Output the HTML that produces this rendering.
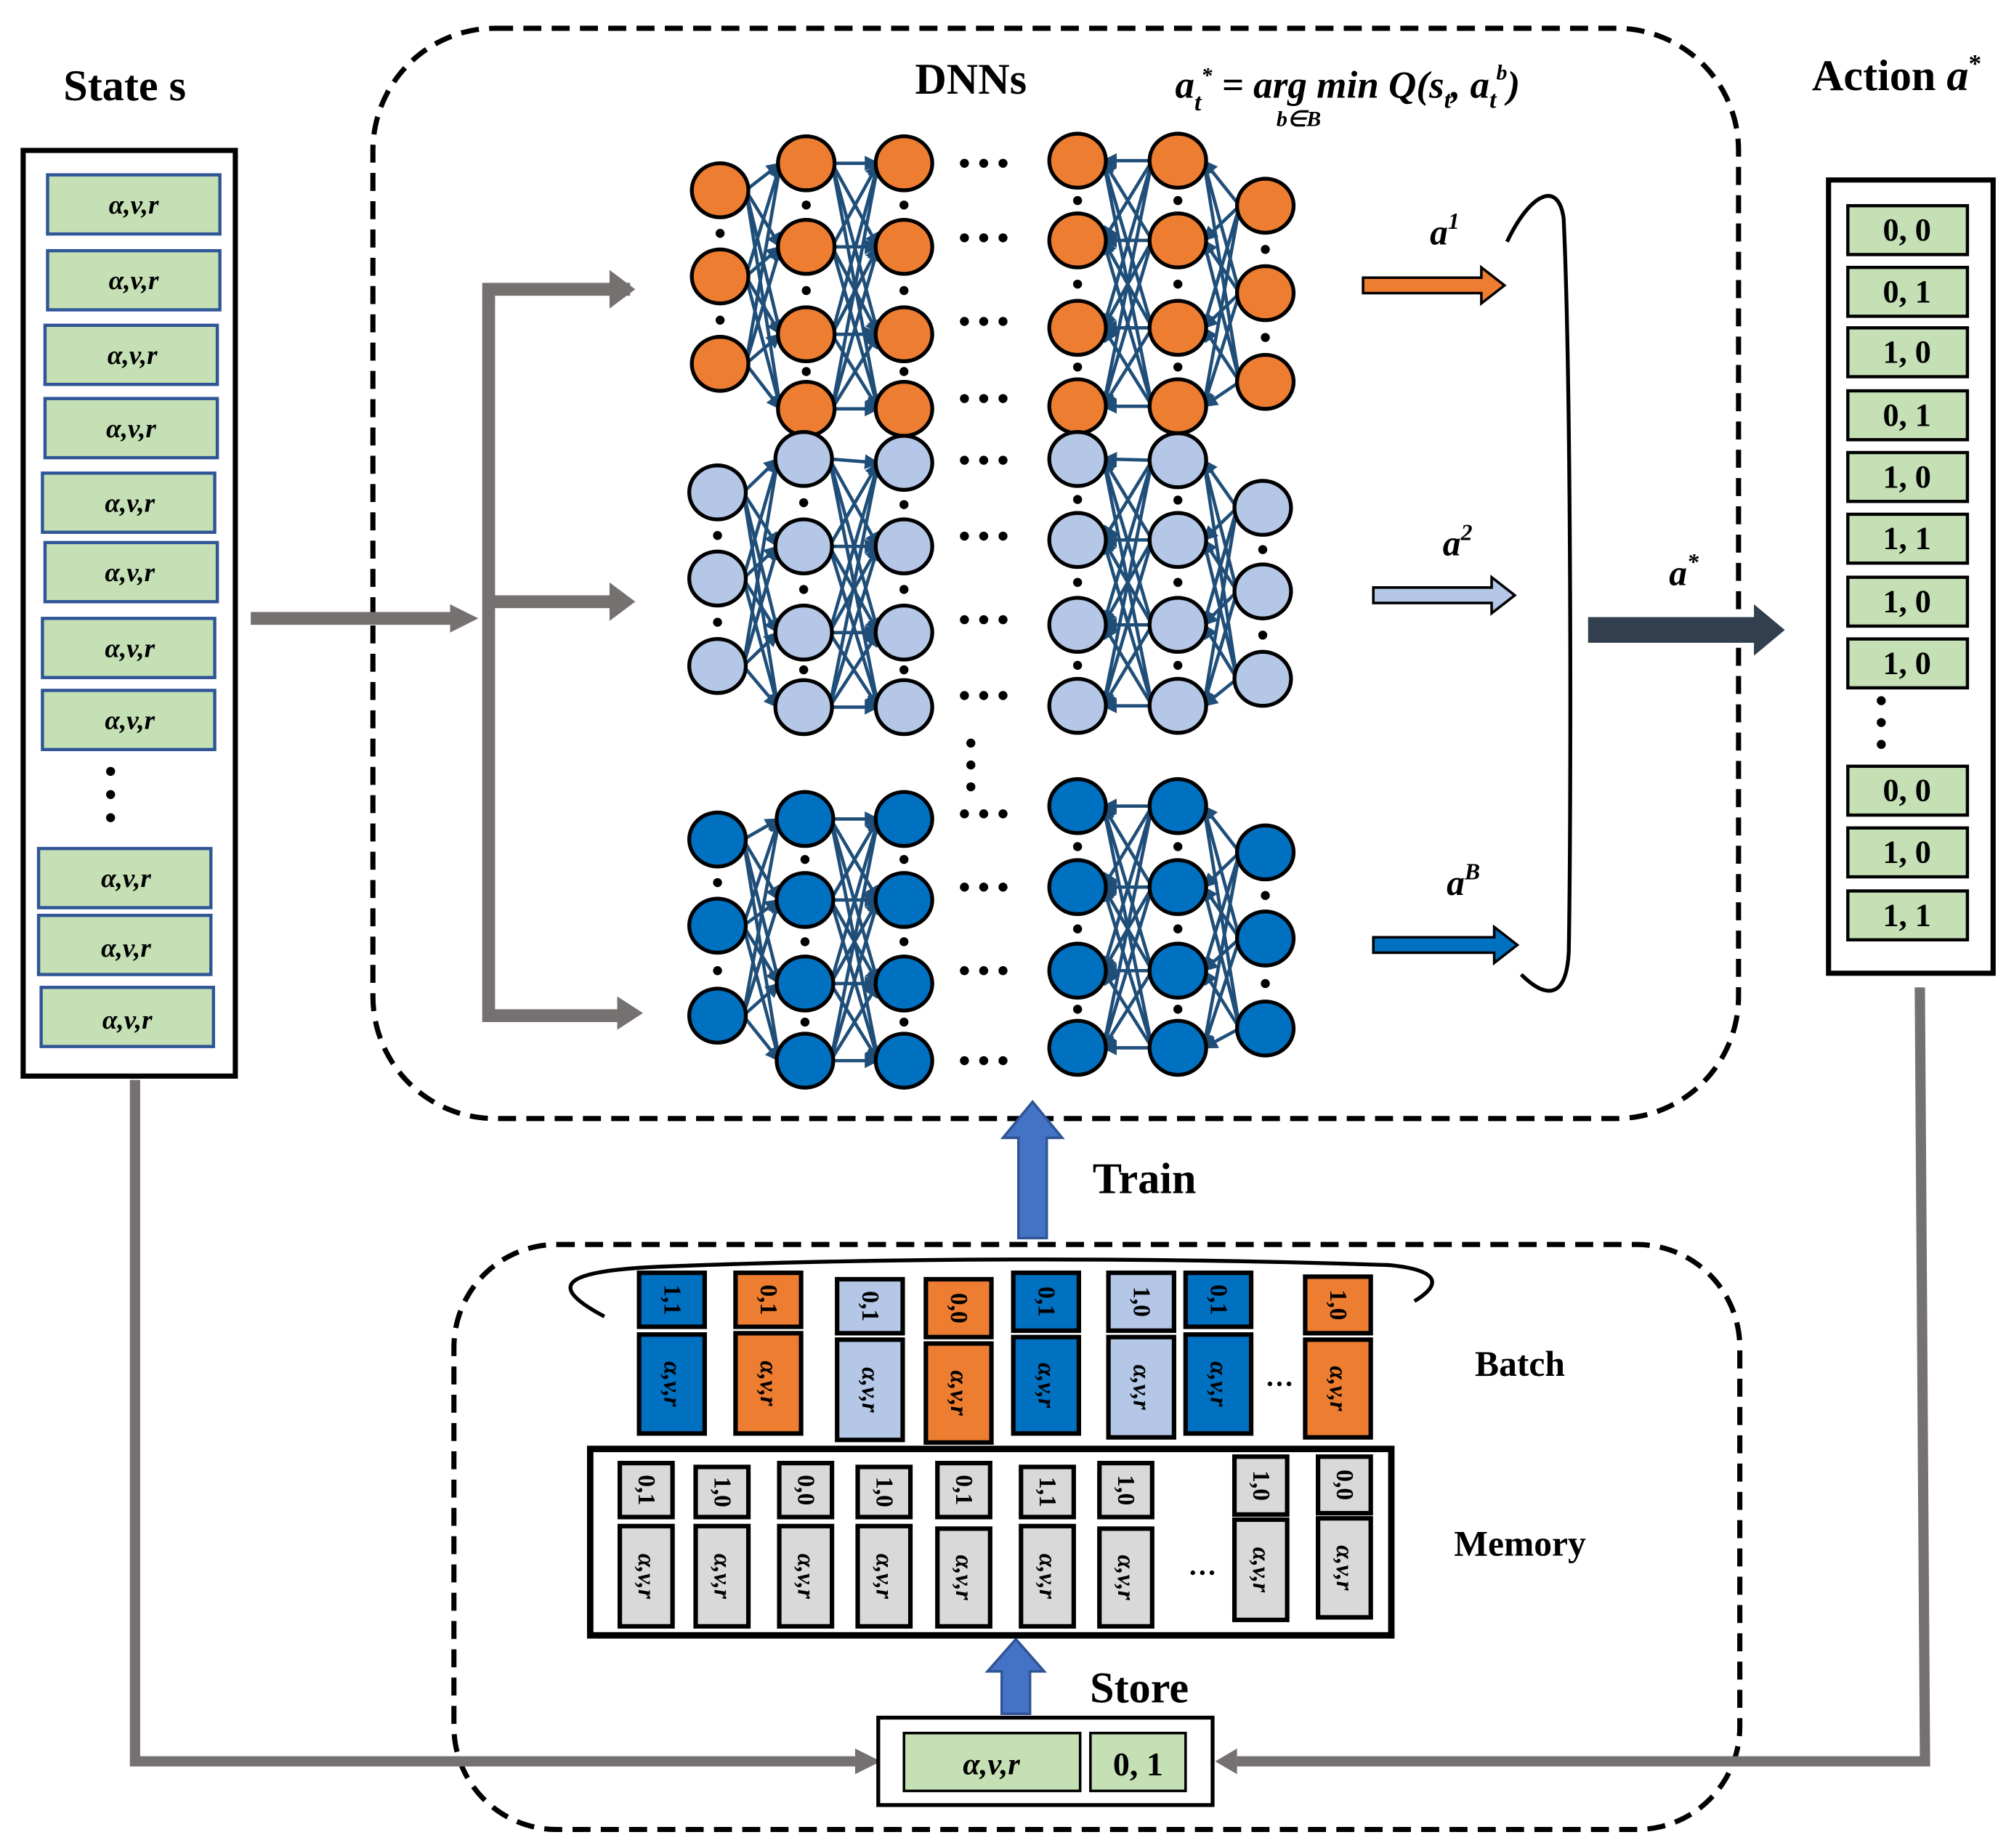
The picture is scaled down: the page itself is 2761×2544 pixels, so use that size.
<!DOCTYPE html>
<html><head><meta charset="utf-8"><style>
html,body{margin:0;padding:0;background:#fff}
svg{display:block}
text{font-family:"Liberation Serif",serif;font-weight:bold}
.it{font-style:italic}
</style></head><body>
<svg id="s" width="2761" height="2544" viewBox="0 0 1560 1437.4" xmlns="http://www.w3.org/2000/svg">
<defs>
<marker id="m" viewBox="0 0 10 10" refX="9" refY="5" markerWidth="4.5" markerHeight="4.5" orient="auto"><path d="M0,0L10,5L0,10z" fill="#1f4e79"/></marker>
</defs>
<rect x="290" y="22" width="1062" height="848" rx="95" fill="none" stroke="#000" stroke-width="4" stroke-dasharray="14,8"/>
<rect x="353" y="968" width="1000" height="455" rx="80" fill="none" stroke="#000" stroke-width="4" stroke-dasharray="14,8"/>
<g id="net"></g>
<text x="97" y="78" font-size="34" text-anchor="middle">State s</text>
<text x="755" y="73" font-size="34" text-anchor="middle">DNNs</text>
<text x="1048" y="76" font-size="30" text-anchor="middle" class="it">a<tspan font-size="19" dy="10">t</tspan><tspan font-size="17" dy="-22">*</tspan><tspan dy="12"> = arg </tspan><tspan>min</tspan><tspan> Q(s</tspan><tspan font-size="19" dy="8">t</tspan><tspan dy="-8">, a</tspan><tspan font-size="19" dy="8">t</tspan><tspan font-size="17" dy="-22">b</tspan><tspan dy="14">)</tspan></text>
<text x="1010" y="98" font-size="17" text-anchor="middle" class="it">b∈B</text>
<text x="1475" y="70" font-size="34" text-anchor="middle">Action <tspan class="it">a</tspan><tspan font-size="20" dy="-14">*</tspan></text>
<rect x="18" y="117" width="165" height="720" fill="#fff" stroke="#000" stroke-width="4"/>
<g id="state"></g>
<rect x="1422" y="140" width="128" height="617" fill="#fff" stroke="#000" stroke-width="4"/>
<g id="act"></g>
<g stroke="#767171" stroke-width="10" fill="none">
<line x1="195" y1="481" x2="350" y2="481"/>
<polyline points="490,225 380,225 380,790 480,790"/>
<line x1="380" y1="468" x2="475" y2="468"/>
<polyline points="105,840 105,1370 665,1370" stroke-width="8"/>
<polyline points="1493,768 1497,1370 962,1370" stroke-width="8"/>
</g>
<g fill="#767171">
<path d="M350,470L372,481L350,492z"/>
<path d="M474,210L494,225L474,240z"/>
<path d="M474,453L494,468L474,483z"/>
<path d="M480,775L500,788L480,801z"/>
<path d="M665,1360L685,1370L665,1380z"/>
<path d="M962,1360L945,1370L962,1380z"/>
</g>
<path d="M1060,216H1152V208L1170,222L1152,236V228H1060z" fill="#ed7d31" stroke="#000" stroke-width="2"/>
<path d="M1068,457H1160V449L1178,463L1160,477V469H1068z" fill="#b4c7e7" stroke="#000" stroke-width="2"/>
<path d="M1068,729H1162V721L1180,735L1162,749V741H1068z" fill="#0070c0" stroke="#000" stroke-width="2"/>
<path d="M1235,480H1364V470L1388,490L1364,510V500H1235z" fill="#323f4f"/>
<path d="M1172,188C1190,150 1212,140 1216,170C1222,300 1222,620 1220,740C1218,780 1200,775 1183,758" fill="none" stroke="#000" stroke-width="3"/>
<text x="1112" y="190" font-size="28" class="it">a<tspan font-size="18" dy="-12">1</tspan></text>
<text x="1122" y="432" font-size="28" class="it">a<tspan font-size="18" dy="-12">2</tspan></text>
<text x="1125" y="696" font-size="28" class="it">a<tspan font-size="18" dy="-12">B</tspan></text>
<text x="1298" y="455" font-size="28" class="it">a<tspan font-size="18" dy="-12">*</tspan></text>
<path d="M792,963V885H780L803,857L826,885H814V963z" fill="#4472c4" stroke="#2f5597" stroke-width="2"/>
<text x="890" y="928" font-size="34" text-anchor="middle">Train</text>
<path d="M779,1333V1300H768L790,1275L812,1300H801V1333z" fill="#4472c4" stroke="#2f5597" stroke-width="2"/>
<text x="886" y="1324" font-size="34" text-anchor="middle">Store</text>
<text x="1182" y="1070" font-size="28" text-anchor="middle">Batch</text>
<text x="1182" y="1210" font-size="28" text-anchor="middle">Memory</text>
<path d="M470,1024C425,1000 435,988 520,985C700,978 900,978 1080,984C1122,988 1120,1000 1100,1012" fill="none" stroke="#000" stroke-width="3"/>
<g id="batch"></g>
<rect x="459" y="1127" width="623" height="145" fill="none" stroke="#000" stroke-width="5"/>
<g id="mem"></g>
<text x="995" y="1078" font-size="22" text-anchor="middle">…</text>
<text x="935" y="1225" font-size="22" text-anchor="middle">…</text>
<rect x="683" y="1336" width="260" height="68" fill="#fff" stroke="#000" stroke-width="3"/>
<rect x="703" y="1348" width="137" height="45" fill="#c5e0b4" stroke="#000" stroke-width="2"/>
<rect x="848" y="1348" width="74" height="45" fill="#c5e0b4" stroke="#000" stroke-width="2"/>
<text x="771" y="1380" font-size="24" text-anchor="middle" class="it">α,v,r</text>
<text x="885" y="1381" font-size="26" text-anchor="middle">0, 1</text>
<g font-size="21" text-anchor="middle" class="it">
<text x="104" y="166">α,v,r</text><text x="104" y="225">α,v,r</text><text x="103" y="283">α,v,r</text><text x="102" y="340">α,v,r</text>
<text x="101" y="398">α,v,r</text><text x="101" y="452">α,v,r</text><text x="101" y="511">α,v,r</text><text x="101" y="567">α,v,r</text>
<text x="98" y="690">α,v,r</text><text x="98" y="744">α,v,r</text><text x="99" y="800">α,v,r</text>
</g>
<g font-size="25" text-anchor="middle">
<text x="1483" y="187">0, 0</text><text x="1483" y="235">0, 1</text><text x="1483" y="282">1, 0</text><text x="1483" y="331">0, 1</text>
<text x="1483" y="379">1, 0</text><text x="1483" y="427">1, 1</text><text x="1483" y="476">1, 0</text><text x="1483" y="524">1, 0</text>
<text x="1483" y="623">0, 0</text><text x="1483" y="671">1, 0</text><text x="1483" y="720">1, 1</text>
</g>
<g id="btxt" font-size="19"></g>
</svg>
<script>
var NS="http://www.w3.org/2000/svg";
function el(p,t,a,txt){var e=document.createElementNS(NS,t);for(var k in a)e.setAttribute(k,a[k]);if(txt)e.textContent=txt;document.getElementById(p).appendChild(e);return e;}
[[37,136],[37,195],[35,253],[35,310],[33,368],[35,422],[33,481],[33,537],[30,660],[30,712],[32,768]].forEach(function(p){el("state","rect",{x:p[0],y:p[1],width:134,height:46,fill:"#c5e0b4",stroke:"#2f5597","stroke-width":2.5});});
[600,618,636].forEach(function(y){el("state","circle",{cx:86,cy:y,r:3.5,fill:"#000"});});
[160,208,255,304,352,400,449,497,596,644,693].forEach(function(y){el("act","rect",{x:1437,y:y,width:93,height:38,fill:"#c5e0b4",stroke:"#000","stroke-width":2.5});});
[545,562,579].forEach(function(y){el("act","circle",{cx:1463,cy:y,r:3.5,fill:"#000"});});
var groups=[
 {f:"#ed7d31",c:[[560,[148,215,283]],[627,[127,192,260,318]],[703,[127,192,260,318]],[838,[125,187,255,316]],[916,[125,187,255,316]],[984,[160,228,297]]],d:[127,185,250,310]},
 {f:"#b4c7e7",c:[[558,[383,450,518]],[625,[357,425,492,550]],[703,[360,425,492,550]],[838,[357,420,486,549]],[916,[358,420,486,549]],[982,[395,460,528]]],d:[358,417,482,541]},
 {f:"#0070c0",c:[[558,[653,720,790]],[626,[637,700,765,825]],[703,[637,700,765,825]],[838,[627,690,755,815]],[916,[627,690,755,815]],[984,[663,730,800]]],d:[633,690,755,825]}
];
groups.forEach(function(g){
 var c=g.c;
 function edges(a,b,rev){c[a][1].forEach(function(y1){c[b][1].forEach(function(y2){
   var x1=c[a][0]+20,x2=c[b][0]-20;
   if(!rev)el("net","line",{x1:x1,y1:y1,x2:x2,y2:y2,stroke:"#1f4e79","stroke-width":2.6,"marker-end":"url(#m)"});
   else el("net","line",{x1:x2,y1:y2,x2:x1,y2:y1,stroke:"#1f4e79","stroke-width":2.6,"marker-end":"url(#m)"});
 });});}
 edges(0,1);edges(1,2);edges(3,4,true);edges(4,5,true);
 c.forEach(function(col,i){
  col[1].forEach(function(y){el("net","ellipse",{cx:col[0],cy:y,rx:22,ry:21,fill:g.f,stroke:"#000","stroke-width":3});});
  for(var k=0;k<col[1].length-1;k++)el("net","circle",{cx:col[0],cy:(col[1][k]+col[1][k+1])/2,r:3.5,fill:"#000"});
 });
 g.d.forEach(function(y){[750,765,780].forEach(function(x){el("net","circle",{cx:x,cy:y,r:3.5,fill:"#000"});});});
});
[578,595,612].forEach(function(y){el("net","circle",{cx:755,cy:y,r:3.5,fill:"#000"});});
var DB="#0070c0",OR="#ed7d31",LB="#b4c7e7";
var B=[[497,990,1032,1038,1115,DB,"1,1"],[572,990,1032,1037,1115,OR,"0,1"],[651,995,1037,1042,1120,LB,"0,1"],[720,995,1040,1045,1122,OR,"0,0"],[788,990,1035,1040,1115,DB,"0,1"],[862,990,1035,1040,1118,LB,"1,0"],[922,990,1032,1038,1115,DB,"0,1"],[1015,993,1037,1042,1118,OR,"1,0"]];
function card(p,x,y1,y2,y3,y4,w,f,t){
 el(p,"rect",{x:x,y:y1,width:w,height:y2-y1,fill:f,stroke:"#000","stroke-width":3.5});
 el(p,"rect",{x:x,y:y3,width:w,height:y4-y3,fill:f,stroke:"#000","stroke-width":3.5});
 var cx=x+w/2,cy=(y1+y2)/2;
 el("btxt","text",{x:cx,y:cy,transform:"rotate(90 "+cx+" "+cy+")","text-anchor":"middle","dominant-baseline":"central"},t);
 cy=(y3+y4)/2;
 el("btxt","text",{x:cx,y:cy,transform:"rotate(90 "+cx+" "+cy+")","text-anchor":"middle","dominant-baseline":"central","font-style":"italic"},"α,v,r");
}
B.forEach(function(b){card("batch",b[0],b[1],b[2],b[3],b[4],51,b[5],b[6]);});
var M=[[482,1138,1180,1187,1265,"0,1"],[541,1141,1180,1187,1265,"1,0"],[606,1138,1180,1187,1265,"0,0"],[667,1141,1180,1187,1265,"1,0"],[729,1138,1180,1189,1265,"0,1"],[794,1141,1180,1187,1265,"1,1"],[855,1138,1180,1189,1265,"1,0"],[960,1133,1178,1182,1260,"1,0"],[1025,1133,1177,1181,1258,"0,0"]];
M.forEach(function(b){card("mem",b[0],b[1],b[2],b[3],b[4],41,"#d9d9d9",b[5]);});
</script>
</body></html>
